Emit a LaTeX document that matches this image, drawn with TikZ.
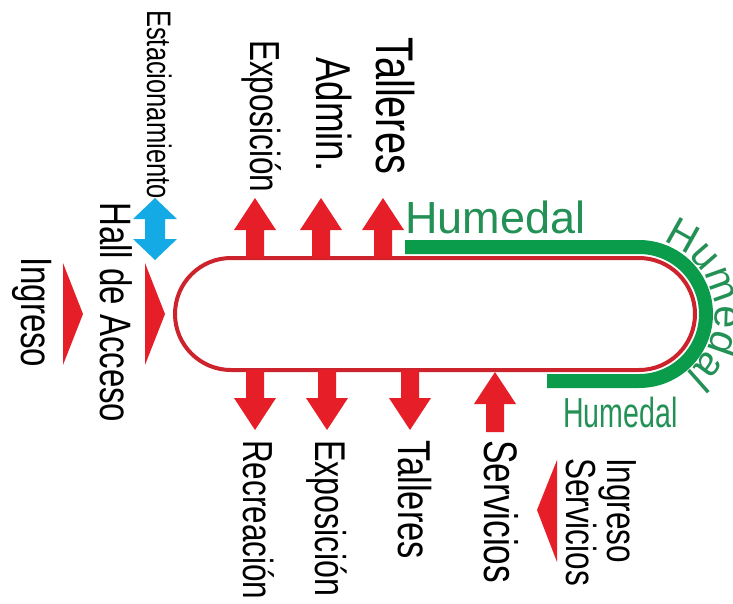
\documentclass[tikz,border=0pt]{standalone}
\usepackage{fontspec}
\setmainfont{Liberation Sans}
\newfontfamily\narrowfont[FakeStretch=0.75]{Liberation Sans}
\usetikzlibrary{decorations.text}

\definecolor{arrowred}{RGB}{230,30,40}
\definecolor{ringred}{RGB}{205,35,45}
\definecolor{wetgreen}{RGB}{10,155,75}
\definecolor{textgreen}{RGB}{35,145,85}
\definecolor{parkblue}{RGB}{20,170,230}

\tikzset{
  lbl/.style={rotate=-90, anchor=base west, inner sep=0pt,
    font=\narrowfont\fontsize{#1}{#1}\selectfont},
  wetlbl/.style={text=textgreen, anchor=base west, inner sep=0pt,
    font=\fontsize{#1}{#1}\selectfont},
  upar/.pic={\fill[arrowred] (-9,0) -- (-9,28) -- (-21,28) -- (0,60)
    -- (21,28) -- (9,28) -- (9,0) -- cycle;},
  dblar/.pic={\fill[parkblue] (0,0) -- (22,-21) -- (10,-21) -- (10,-41)
    -- (22,-41) -- (0,-62) -- (-22,-41) -- (-10,-41) -- (-10,-21)
    -- (-22,-21) -- cycle;},
}

\begin{document}
\begin{tikzpicture}[x=1pt, y=1pt]
  \useasboundingbox[fill=white] (0,0) rectangle (733,-603);

  % humedal band
  \draw[wetgreen, line width=14pt] (405,-247) -- (639,-247)
    arc[start angle=90, end angle=-90, radius=67] -- (547,-381);
  % recinto
  \draw[ringred, line width=4pt] (231,-258) -- (639,-258)
    arc[start angle=90, end angle=-90, radius=56] -- (231,-370)
    arc[start angle=270, end angle=90, radius=56] -- cycle;

  % arrows top
  \pic at (255,-258) {upar};
  \pic at (321,-258) {upar};
  \pic at (383,-258) {upar};
  % arrows bottom
  \pic[rotate=180] at (255,-370) {upar};
  \pic[rotate=180] at (327,-370) {upar};
  \pic[rotate=180] at (410,-370) {upar};
  \pic at (495,-432) {upar};
  % estacionamiento
  \pic at (155,-198) {dblar};

  % ingresos
  \fill[arrowred] (63,-263) -- (83,-314) -- (63,-365) -- cycle;
  \fill[arrowred] (145,-263) -- (165,-314) -- (145,-365) -- cycle;
  \fill[arrowred] (557,-460) -- (537,-510) -- (557,-562) -- cycle;

  % labels left
  \node[lbl=34] (est) at (147,-10) {Estacionamiento};
  \node[lbl=44] (hall) at (100,-202) {Hall de Acceso};
  \node[lbl=44] (ingr) at (21,-257) {Ingreso};
  % labels top
  \node[lbl=42] (expo1) at (250,-40) {Exposición};
  \node[lbl=49] (admin) at (316,-57) {Admin.};
  \node[lbl=53] (tall1) at (376,-37) {Talleres};
  % labels bottom
  \node[lbl=42] (recr) at (243,-440) {Recreación};
  \node[lbl=43] (expo2) at (315,-440) {Exposición};
  \node[lbl=46] (tall2) at (398,-440) {Talleres};
  \node[lbl=47] (serv) at (484,-440) {Servicios};
  \node[lbl=42] (ingserv1) at (607,-458) {Ingreso};
  \node[lbl=42] (ingserv2) at (566,-458) {Servicios};

  % humedal
  \node[wetlbl=45] (hum1) at (405,-233) {Humedal};
  \node[wetlbl=42, xscale=0.68] (hum2) at (563,-427) {Humedal};
  \path[decorate, decoration={text along path, text align=center,
    text={|\fontsize{41}{41}\selectfont\color{textgreen}|Humedal}}]
    (639,-314) ++(76:76) arc[start angle=76, end angle=-56, radius=76];
\end{tikzpicture}
\end{document}
